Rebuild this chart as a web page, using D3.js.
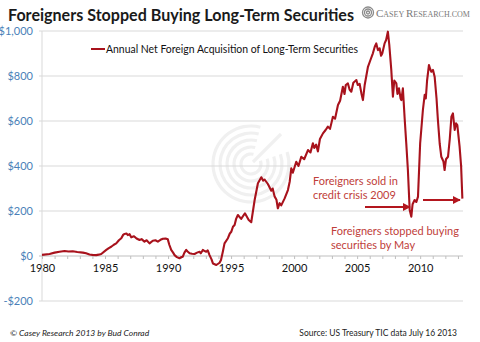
<!DOCTYPE html>
<html><head><meta charset="utf-8">
<script src="https://cdn.jsdelivr.net/npm/d3@7"></script>
<style>
html,body{margin:0;padding:0;background:#fff;}
svg{display:block;}
</style></head>
<body>
<script>
// ---- data ----
const years = [1980.00,1980.6,1981.0,1981.39,1981.79,1982.1,1982.44,1982.8,1983.24,1983.5,1983.77,1984.0,1984.3,1984.5,1984.7,
1985.1,1985.3,1985.49,1985.7,1985.89,1986.1,1986.29,1986.45,1986.55,1986.7,1986.81,1986.95,1987.08,1987.3,1987.5,1987.74,1987.9,
1988.13,1988.3,1988.53,1988.79,1989.0,1989.19,1989.4,1989.59,1989.8,1989.98,1990.1,1990.25,1990.4,1990.52,1990.7,1990.91,
1991.05,1991.17,1991.3,1991.44,1991.55,1991.71,1991.9,1992.1,1992.3,1992.5,1992.6,1992.76,1992.9,1993.03,1993.15,1993.29,
1993.45,1993.56,1993.83,1994.09,1994.2,1994.35,1994.48,1994.75,1994.9,1995.02,1995.15,1995.28,1995.4,1995.54,1995.8,1996.1,
1996.4,1996.6,1996.87,1997.13,1997.4,1997.55,1997.66,1997.92,1998.19,1998.3,1998.45,1998.6,1998.71,1998.85,1998.98,1999.25,
1999.51,1999.65,1999.78,1999.9,2000.17,2000.35,2000.57,2000.8,2001.1,2001.3,2001.49,2001.6,2001.75,2001.89,2002.05,2002.29,
2002.5,2002.68,2002.85,2003.08,2003.25,2003.48,2003.65,2003.87,2004.0,2004.1,2004.27,2004.4,2004.54,2004.7,2004.94,2005.05,
2005.2,2005.35,2005.46,2005.6,2005.86,2006.05,2006.25,2006.4,2006.52,2006.65,2006.79,2006.9,2007.0,2007.18,2007.3,2007.44,
2007.55,2007.71,2007.84,2007.95,2008.11,2008.2,2008.32,2008.45,2008.51,2008.63,2008.77,2008.9,2009.03,2009.17,2009.3,2009.4,
2009.56,2009.7,2009.83,2010.0,2010.22,2010.36,2010.45,2010.55,2010.7,2010.8,2010.89,2011.02,2011.15,2011.3,2011.41,2011.55,
2011.68,2011.85,2011.94,2012.05,2012.21,2012.35,2012.48,2012.6,2012.74,2012.85,2012.95,2013.13,2013.25,2013.35];
const values = [5,9,15,19,22,20,21,18,15,12,7,5,4,6,9,
27,35,41,50,56,70,79,95,98,100,93,97,83,88,78,71,75,
64,70,56,68,70,64,72,77,78,74,50,27,15,4,-5,-10,
-5,-3,15,27,20,12,10,9,15,19,12,27,22,19,25,4,
-15,-33,-40,-30,-18,20,56,79,100,108,130,138,165,182,165,190,
160,150,249,323,350,335,340,320,290,300,265,250,212,235,225,256,
293,330,390,370,419,400,441,430,471,460,501,480,495,465,520,545,
560,575,565,619,610,671,690,752,720,760,767,740,730,770,782,760,
765,720,693,760,841,870,901,930,945,915,923,890,901,945,960,997,
940,827,708,780,767,720,745,700,693,745,612,500,380,204,175,230,
249,240,264,500,650,716,700,780,849,830,819,827,797,700,604,500,
441,420,382,430,441,520,619,634,560,590,582,486,400,255];

const yTicks = [-200,0,200,400,600,800,1000];
const yTickLabels = ["-$200","$0","$200","$400","$600","$800","$1,000"];
const xLabelYears = [1980,1985,1990,1995,2000,2005,2010];
const xMinorYears = d3.range(1980,2014);
const seriesName = "Annual Net Foreign Acquisition of Long-Term Securities";
const titleText = "Foreigners Stopped Buying Long-Term Securities";
const note1 = ["Foreigners sold in","credit crisis 2009"];
const note2 = ["Foreigners stopped buying","securities by May"];
const footerLeft = "\u00A9 Casey Research 2013 by Bud Conrad";
const footerRight = "Source: US Treasury TIC data July 16 2013";

// ---- layout ----
const W = 480, H = 342;
const L = 42, R = 463, T = 31, B = 301;
const svg = d3.select("body").append("svg").attr("width",W).attr("height",H)
  .style("font-family","Lato, 'Open Sans', sans-serif");

const x = d3.scaleLinear().domain([1980, 2013.4]).range([L, R]);
const y = d3.scaleLinear().domain([-200, 1000]).range([B, T]);

// title
svg.append("text").attr("x",8).attr("y",21)
  .attr("font-size",17).attr("font-weight","bold").attr("fill","#1a1a1a")
  .attr("textLength",346).attr("lengthAdjust","spacingAndGlyphs")
  .text(titleText);

// logo
const logo = svg.append("g");
[5.5,3.5,1.5].forEach(r=>logo.append("circle").attr("cx",368).attr("cy",12.5).attr("r",r)
  .attr("fill","none").attr("stroke","#8a8a8a").attr("stroke-width",1.3));
const lt = logo.append("text").attr("x",376).attr("y",17).attr("fill","#7a7a7a")
  .style("font-family","'Liberation Serif', 'DejaVu Serif', serif");
lt.append("tspan").attr("font-size",11).text("C");
lt.append("tspan").attr("font-size",8).text("ASEY ");
lt.append("tspan").attr("font-size",11).text("R");
lt.append("tspan").attr("font-size",8).text("ESEARCH.COM");

// watermark
const wm = svg.append("g").attr("transform","translate(251,164)");
[10,17,24,31,38].forEach(r=>{
  wm.append("path").attr("d", d3.arc()({innerRadius:r-1.6,outerRadius:r+1.6,startAngle:1.25,endAngle:2*Math.PI+0.25}))
    .attr("fill","#f0f0f0");
});
wm.append("line").attr("x1",2).attr("y1",-2).attr("x2",30).attr("y2",-30)
  .attr("stroke","#f0f0f0").attr("stroke-width",3.2);

// gridlines
svg.append("g").selectAll("line").data(yTicks.filter(d=>d!==0)).join("line")
  .attr("x1",L-3).attr("x2",R).attr("y1",d=>y(d)).attr("y2",d=>y(d))
  .attr("stroke","#d9d9d9").attr("stroke-width",1);
svg.append("line").attr("x1",L).attr("x2",L).attr("y1",T).attr("y2",B)
  .attr("stroke","#d9d9d9");

// y axis labels
const yAxis = svg.append("g").attr("transform",`translate(${L},0)`)
  .call(d3.axisLeft(y).tickValues(yTicks).tickSize(0).tickPadding(9)
    .tickFormat((d,i)=>yTickLabels[yTicks.indexOf(d)]));
yAxis.select(".domain").remove();
yAxis.selectAll("text").attr("font-size",11).attr("fill","#4a7fb8")
  .style("font-family","Lato, 'Open Sans', sans-serif");

// x axis at zero
const x0 = y(0);
const xMinor = svg.append("g").attr("transform",`translate(0,${x0})`)
  .call(d3.axisBottom(x).tickValues(xMinorYears).tickSize(3).tickSizeOuter(0).tickFormat(""));
xMinor.select(".domain").attr("stroke","#bfbfbf").attr("d",`M${L-3},0H${R}`);
xMinor.selectAll(".tick line").attr("stroke","#bfbfbf");
const xLab = svg.append("g").attr("transform",`translate(0,${x0})`)
  .call(d3.axisBottom(x).tickValues(xLabelYears).tickSize(0).tickPadding(8).tickFormat(d3.format("d")));
xLab.select(".domain").remove();
xLab.selectAll("text").attr("font-size",11).attr("fill","#111")
  .style("font-family","Lato, 'Open Sans', sans-serif");

// series line
const pts = years.map((yr,i)=>[yr, values[i]]);
svg.append("path").datum(pts)
  .attr("d", d3.line().x(d=>x(d[0])).y(d=>y(d[1])))
  .attr("fill","none").attr("stroke","#a8121c").attr("stroke-width",2.1)
  .attr("stroke-linejoin","round");

// legend
svg.append("line").attr("x1",91).attr("x2",105).attr("y1",49).attr("y2",49)
  .attr("stroke","#a8121c").attr("stroke-width",2);
svg.append("text").attr("x",106).attr("y",53).attr("font-size",11).attr("fill","#111")
  .attr("textLength",252).attr("lengthAdjust","spacingAndGlyphs")
  .text(seriesName);

// annotations
const noteColor = "#c0403a";
svg.append("text").attr("font-size",11).attr("fill",noteColor)
  .selectAll("tspan").data(note1).join("tspan").attr("x",313).attr("y",(d,i)=>185+i*14).text(d=>d);
svg.append("text").attr("font-size",11).attr("fill",noteColor)
  .selectAll("tspan").data(note2).join("tspan").attr("x",331).attr("y",(d,i)=>235+i*14).text(d=>d);

const defs = svg.append("defs");
defs.append("marker").attr("id","ah").attr("viewBox","0 0 10 10").attr("refX",9).attr("refY",5)
  .attr("markerWidth",4).attr("markerHeight",4).attr("orient","auto")
  .append("path").attr("d","M0,0L10,5L0,10z").attr("fill","#b3161e");
svg.append("line").attr("x1",365).attr("y1",207).attr("x2",410).attr("y2",207)
  .attr("stroke","#b3161e").attr("stroke-width",2).attr("marker-end","url(#ah)");
svg.append("line").attr("x1",423).attr("y1",200).attr("x2",460).attr("y2",200)
  .attr("stroke","#b3161e").attr("stroke-width",2).attr("marker-end","url(#ah)");

// footer
svg.append("text").attr("x",10).attr("y",336).attr("font-size",8.5).attr("font-style","italic")
  .attr("fill","#222").text(footerLeft);
svg.append("text").attr("x",457).attr("y",336).attr("font-size",8.5).attr("text-anchor","end")
  .attr("fill","#222").text(footerRight);
</script>
</body></html>
